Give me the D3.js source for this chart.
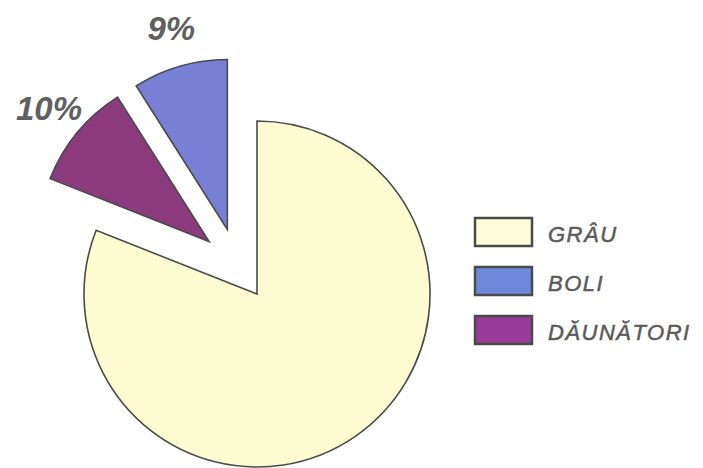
<!DOCTYPE html>
<html><head><meta charset="utf-8">
<script src="https://cdn.jsdelivr.net/npm/d3@7"></script>
<style>body{margin:0;background:#fff}svg{display:block}</style>
</head><body>
<script>
const categories = ["GRÂU", "DĂUNĂTORI", "BOLI"];
const values = [81, 10, 9];
const labels = ["", "10%", "9%"];
const legendOrder = ["GRÂU", "BOLI", "DĂUNĂTORI"];
const colors = {"GRÂU": "#fdfcd0", "BOLI": "#7a7fd6", "DĂUNĂTORI": "#8b3a7e"};
const legendColors = {"GRÂU": "#fdfcd8", "BOLI": "#6e88da", "DĂUNĂTORI": "#9a3a98"};

const W = 703, H = 468;
const svg = d3.select("body").append("svg").attr("width", W).attr("height", H);
const cx = 257, cy = 294;
// explode distance, explode direction bias (deg), label direction bias (deg)
const explode = {"GRÂU": [0, 0, 0], "DĂUNĂTORI": [71, 8, 2.2], "BOLI": [71, -8.5, -1.7]};
const radius = {"GRÂU": 173, "DĂUNĂTORI": 171, "BOLI": 170};
const labelRadius = 279;

const pie = d3.pie().sort(null).value(d => d.v);
const arcs = pie(categories.map((c, i) => ({c, v: values[i], l: labels[i]})));

const g = svg.append("g").attr("transform", `translate(${cx},${cy})`);
arcs.forEach(a => {
  const mid = (a.startAngle + a.endAngle) / 2;
  const [d, bias, lbias] = explode[a.data.c];
  const ang = mid + bias * Math.PI / 180;
  const dx = Math.sin(ang) * d, dy = -Math.cos(ang) * d;
  const arc = d3.arc().innerRadius(0).outerRadius(radius[a.data.c]);
  g.append("path").attr("d", arc(a))
    .attr("transform", `translate(${dx},${dy})`)
    .attr("fill", colors[a.data.c])
    .attr("stroke", "#4a4a4a").attr("stroke-width", 1.6).attr("stroke-linejoin", "miter");
  if (a.data.l) {
    const la = mid + lbias * Math.PI / 180;
    g.append("text")
      .attr("x", Math.sin(la) * labelRadius).attr("y", -Math.cos(la) * labelRadius)
      .attr("text-anchor", "middle").attr("dominant-baseline", "central")
      .attr("font-family", "Liberation Sans, Arial, sans-serif")
      .attr("font-style", "italic").attr("font-weight", "bold")
      .attr("font-size", 33).attr("fill", "#606060")
      .text(a.data.l);
  }
});

const lg = svg.append("g").attr("transform", "translate(475,218)");
legendOrder.forEach((c, i) => {
  const y = i * 49;
  lg.append("rect").attr("x", 0).attr("y", y).attr("width", 57).attr("height", 28)
    .attr("fill", legendColors[c]).attr("stroke", "#4a4a4a").attr("stroke-width", 2.5);
  lg.append("text").attr("x", 73).attr("y", y + 16)
    .attr("dominant-baseline", "central")
    .attr("font-family", "Liberation Sans, Arial, sans-serif")
    .attr("font-style", "italic").attr("font-size", 22).attr("letter-spacing", 1.5)
    .attr("fill", "#5a5a5a").attr("stroke", "#5a5a5a").attr("stroke-width", 0.5)
    .text(c);
});
</script>
</body></html>
